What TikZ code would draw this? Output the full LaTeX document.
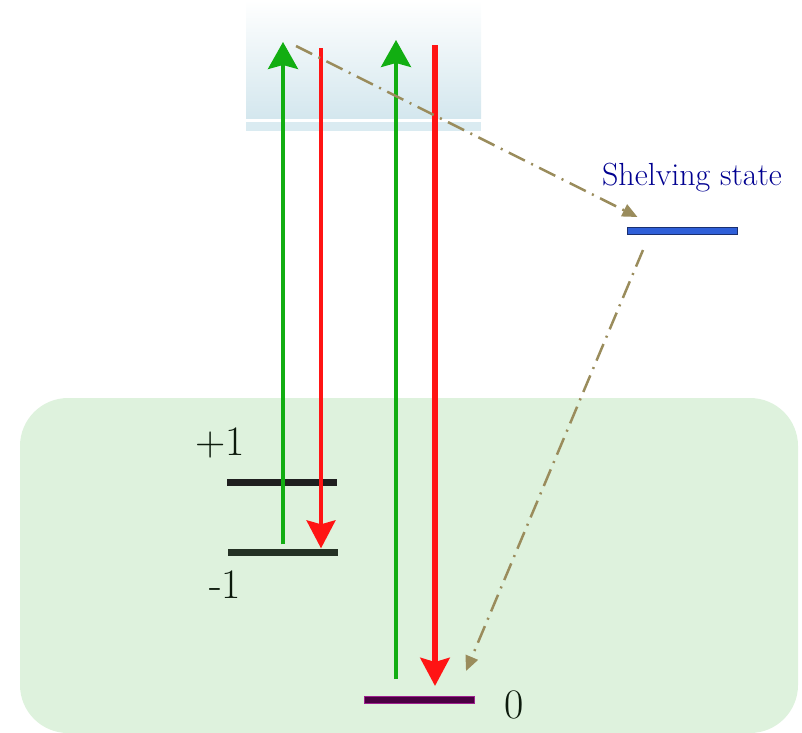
\documentclass[tikz,border=0pt]{standalone}
\usepackage{fontspec}
\usetikzlibrary{arrows.meta, positioning}

\definecolor{bandgreen}{HTML}{DEF2DD}
\definecolor{skyblue}{HTML}{D4E7EE}
\definecolor{skystrip}{HTML}{DAEBF1}
\definecolor{pumpgreen}{HTML}{12AE12}
\definecolor{decayred}{HTML}{FF1414}
\definecolor{shelveolive}{HTML}{9A8C5C}
\definecolor{shelfblue}{HTML}{2F5FD8}
\definecolor{shelfnavy}{HTML}{1A2F70}
\definecolor{zerofill}{HTML}{4A0042}
\definecolor{zeroedge}{HTML}{A02090}
\definecolor{digitink}{HTML}{0C1A0C}
\definecolor{titleblue}{HTML}{000090}

\begin{document}
\begin{tikzpicture}[x=1pt, y=-1pt,
        level/.style={rectangle, inner sep=0pt, minimum width=110pt, minimum height=7pt},
        lbl/.style={inner sep=0pt, font=\fontsize{42}{46}\selectfont, text=digitink},
        pump/.style={draw=pumpgreen, line width=3.5pt, -{Stealth[length=27pt, width=30pt, inset=4pt]}},
        decay/.style={draw=decayred, -{Stealth[length=28pt, width=29pt, inset=4pt]}},
        shelve/.style={draw=shelveolive, line width=2.5pt, dash pattern=on 18pt off 7pt on 2pt off 7pt,
                       -{Triangle[length=15pt, width=13pt]}}
    ]
        \useasboundingbox (0,0) rectangle (802,732);
        % background regions
        \fill[bandgreen, rounded corners=48pt] (20,398) rectangle (798,733);
        \shade[top color=white, bottom color=skyblue] (246,0) rectangle (481,118);
        \fill[skystrip] (246,122) rectangle (481,131);

        % levels
        \node[level, fill=black!88] (p1) at (282,482) {};
        \node[level, fill=digitink!90] (m1) at (282.5,552) {};
        \node[level, fill=zerofill, draw=zeroedge, line width=1pt] (z0) at (419,700) {};
        \node[level, fill=shelfblue, draw=shelfnavy, line width=1pt] (shelf) at (682,231) {};

        % labels
        \node[lbl] (p1lbl) at (220,443) {+1};
        \node[lbl] (m1lbl) at (225,585) {-1};
        \node[lbl] (z0lbl) at (514,705) {0};
        \node[text=titleblue, font=\fontsize{32}{35}\selectfont, inner sep=0pt] (shelftxt) at (692,178) {Shelving state};

        % transitions
        \coordinate (g1top) at (283,42);
        \coordinate (r1top) at (321,48);
        \coordinate (g2top) at (396,40);
        \coordinate (r2top) at (435,45);
        \coordinate (s1top) at (296,46);
        \draw[pump] ([yshift=4pt]m1.north -| g1top) -- (g1top);
        \draw[decay, line width=3.5pt] (r1top) -- (m1.north -| r1top);
        \draw[pump] ([yshift=17pt]z0.north -| g2top) -- (g2top);
        \draw[decay, line width=6pt] (r2top) -- ([yshift=10pt]z0.north -| r2top);

        \draw[shelve] (s1top) -- ([shift={(11,-10)}]shelf.north west);
        \draw[shelve] ([shift={(-39,15)}]shelf.south) -- ([shift={(47,-25)}]z0.north);
    \end{tikzpicture}
\end{document}
